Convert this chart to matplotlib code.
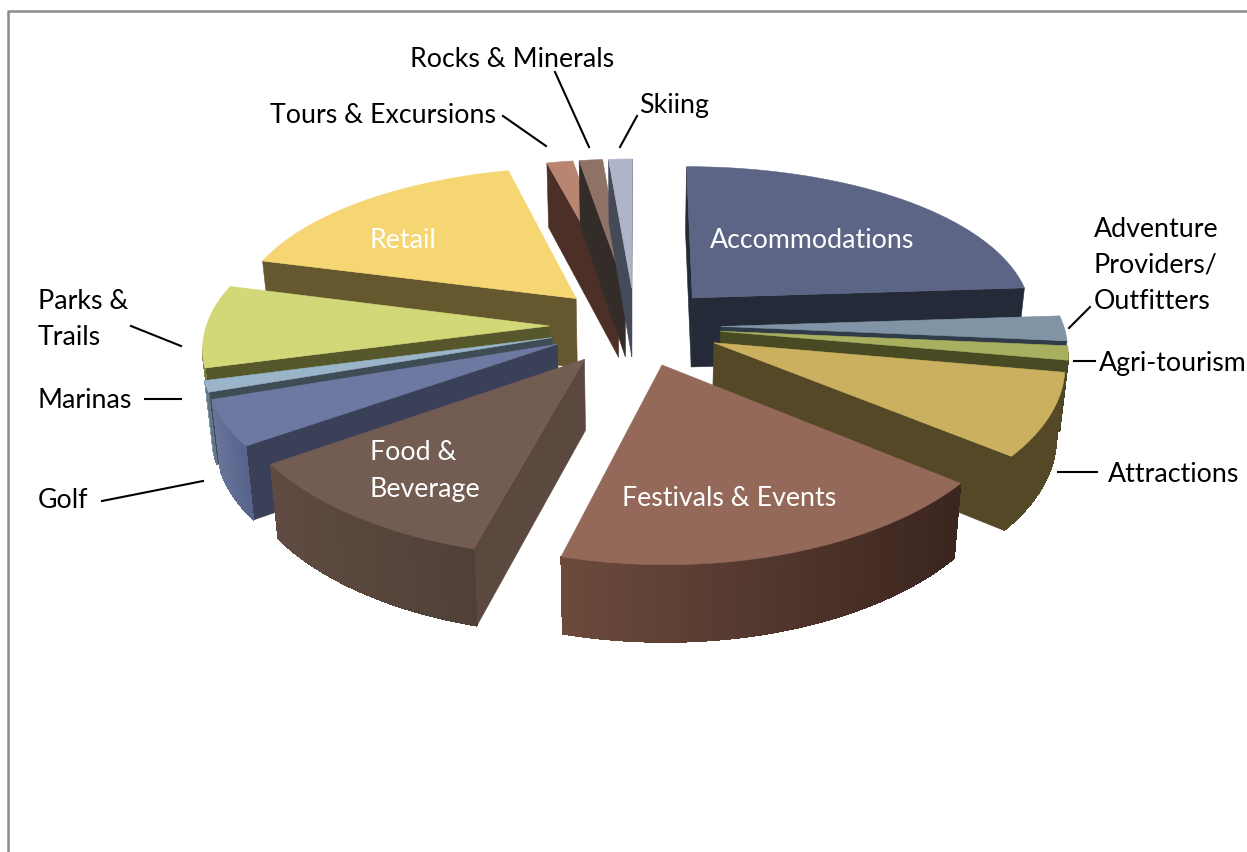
import numpy as np
import matplotlib
matplotlib.use("Agg")
import matplotlib.pyplot as plt
import matplotlib.colors as mcolors

categories = ["Accommodations", "Adventure Providers/Outfitters", "Agri-tourism", "Attractions",
              "Festivals & Events", "Food & Beverage", "Golf", "Marinas", "Parks & Trails", "Retail",
              "Tours & Excursions", "Rocks & Minerals", "Skiing"]
shares = [23.9, 2.5, 1.4, 8.05, 18.3, 11.1, 4.45, 1.1, 8.3, 16.9, 1.4, 1.25, 1.25]

top_colors = ["#5c6585", "#8094a6", "#a8b060", "#cbb060", "#94695a", "#735c52", "#6d79a0",
              "#9ab4ca", "#d2d877", "#f6d673", "#b98570", "#8f7266", "#b0b4c8"]
face_colors = ["#242a38", "#2f3c48", "#484a24", "#544826", "#3a251f", "#5b483f", "#3a4058",
               "#3f4c56", "#56582c", "#66582e", "#4c3028", "#342c28", "#454a58"]
# rim colour at the right-hand and left-hand end of each slice
rim_right = ["#242a38", "#2f3c48", "#484a24", "#544826", "#3a251f", "#4f4037", "#56618a",
             "#3f4c56", "#56582c", "#66582e", "#4c3028", "#342c28", "#454a58"]
rim_left = ["#242a38", "#2f3c48", "#484a24", "#544826", "#6b4a3c", "#5f4b41", "#69749a",
            "#7f99ad", "#7d8240", "#66582e", "#4c3028", "#342c28", "#454a58"]

# back to front, so nearer slices cover the ones behind them
draw_order = [10, 11, 12, 0, 9, 8, 7, 6, 5, 1, 2, 3, 4]

# outside labels: text lines, x, y of each line
outer_labels = [("Rocks & Minerals", 410, 59), ("Tours & Excursions", 270, 115), ("Skiing", 639, 105),
                ("Adventure", 1094, 229), ("Providers/", 1094, 265), ("Outfitters", 1094, 301),
                ("Agri-tourism", 1099, 363), ("Attractions", 1108, 475),
                ("Parks &", 38, 301), ("Trails", 38, 337), ("Marinas", 38, 401), ("Golf", 38, 500)]
inner_labels = [("Accommodations", 710, 240), ("Retail", 370, 240), ("Festivals & Events", 622, 499),
                ("Food &", 370, 453), ("Beverage", 370, 489)]
leaders = [((503, 117), (546, 147)), ((555, 73), (589, 148)), ((637, 117), (620, 148)),
           ((1090, 308), (1069, 329)), ((1095, 362), (1074, 362)), ((1097, 473), (1058, 473)),
           ((131, 327), (181, 347)), ((145, 400), (181, 400)), ((102, 502), (203, 482))]

CX, CY = 635, 327
RX, RY = 343, 158
PERSP = 0.146
DEPTH = 70
EXPLODE = 0.25


def project(u, v):
    w = 1 / (1 + PERSP * v)
    return CX + RX * u * w ** 0.8, CY - RY * v * w, w


def extrude(sx, sy, w):
    return CX + (sx - CX) * 0.98, sy + DEPTH * np.sqrt(w)


def mix(c1, c2, t):
    return tuple((1 - t) * a + t * b for a, b in zip(mcolors.to_rgb(c1), mcolors.to_rgb(c2)))


def draw_quad(ax, p1, p2, color, smooth=True):
    x1, y1, w1 = p1
    x2, y2, w2 = p2
    bx1, by1 = extrude(x1, y1, w1)
    bx2, by2 = extrude(x2, y2, w2)
    ax.fill([x1, x2, bx2, bx1], [y1, y2, by2, by1], color=color, lw=0.4, antialiased=smooth)


def draw_slice(ax, idx, start, end):
    # start > end: the pie runs clockwise from twelve o'clock
    mid = np.radians((start + end) / 2)
    u0, v0 = EXPLODE * np.cos(mid), EXPLODE * np.sin(mid)
    apex = project(u0, v0)
    steps = max(3, int((start - end) / 1.5))
    angles = np.linspace(end, start, steps)
    rim = [project(u0 + np.cos(np.radians(a)), v0 + np.sin(np.radians(a))) for a in angles]

    # side faces, only the ones turned towards the viewer
    if rim[0][0] > apex[0]:
        draw_quad(ax, apex, rim[0], face_colors[idx])
    if apex[0] > rim[-1][0]:
        draw_quad(ax, rim[-1], apex, face_colors[idx])
    xs = [p[0] for p in rim]
    span = max(max(xs) - min(xs), 1)
    for p1, p2 in zip(rim[:-1], rim[1:]):
        if p2[0] > p1[0]:
            t = (p1[0] - min(xs)) / span
            draw_quad(ax, p1, p2, mix(rim_left[idx], rim_right[idx], t), smooth=False)

    outline = [apex] + rim
    ax.fill([p[0] for p in outline], [p[1] for p in outline], color=top_colors[idx], lw=0.4)


fig = plt.figure(figsize=(12.47, 8.53), dpi=100)
ax = fig.add_axes([0, 0, 1, 1])
ax.set_xlim(0, 1247)
ax.set_ylim(853, 0)
ax.axis("off")

# chart frame, runs off the right and bottom of the figure
ax.plot([8, 8, 1247], [853, 12, 12], color="#8c8c8c", lw=1.8)

fractions = np.array(shares) / np.sum(shares)
edges = 90 - 360 * np.concatenate([[0], np.cumsum(fractions)])
for idx in draw_order:
    draw_slice(ax, idx, edges[idx], edges[idx + 1])

for start, end in leaders:
    ax.plot([start[0], end[0]], [start[1], end[1]], color="black", lw=1.5)
for label, x, y in outer_labels:
    ax.text(x, y, label, fontsize=19.3, family="Lato", color="black", ha="left", va="center")
for label, x, y in inner_labels:
    ax.text(x, y, label, fontsize=19.3, family="Lato", color="white", ha="left", va="center")

fig.savefig("out.png", dpi=100)
